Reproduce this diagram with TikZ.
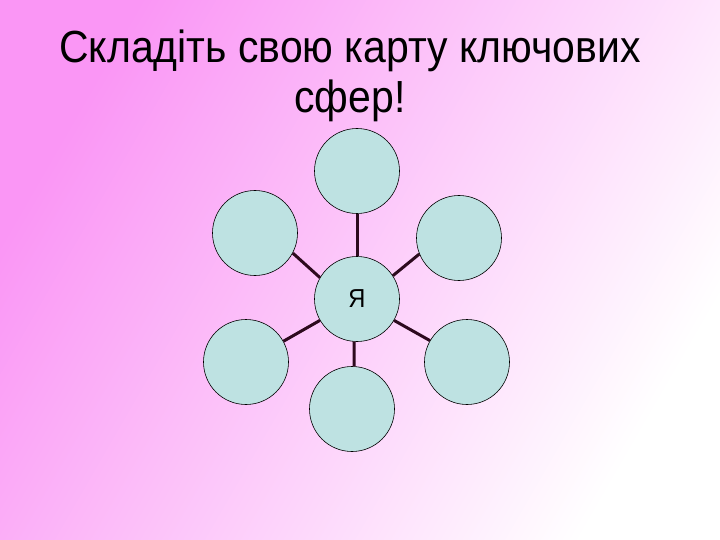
\documentclass[tikz,border=0pt]{standalone}
\usepackage{fontspec}
\setmainfont{Liberation Sans}[FakeStretch=0.91]
\usetikzlibrary{positioning,shapes}

\definecolor{bgpink}{RGB}{250,150,245}
\definecolor{spherefill}{RGB}{190,226,226}
\definecolor{spokecol}{RGB}{45,10,30}

\begin{document}
\begin{tikzpicture} [x=1pt,y=-1pt,line width=0.6pt,
  sphere/.style={circle,draw=black,fill=spherefill,minimum size=85pt,inner sep=0pt},
  spoke/.style={draw=spokecol,line width=3pt}]

  \shade[top color=bgpink,bottom color=white,shading angle=60] (0,0) rectangle (720,540);
  \useasboundingbox (0,0) rectangle (720,540);

  \node (title) [anchor=north, align=center, inner sep=0pt,
    font=\fontsize{45}{50}\selectfont] at (350,30)
    {Складіть свою карту ключових\\сфер!};

  \node[sphere] (ya) at (357,299) {\fontsize{26}{30}\selectfont Я};
  \node[sphere] (top) at (357,171) {};
  \node[sphere] (ul)  at (255,233) {};
  \node[sphere] (ur)  at (459,238) {};
  \node[sphere] (ll)  at (246,362) {};
  \node[sphere] (lr)  at (467,362) {};
  \node[sphere] (bot) at (352,409) {};

  \draw[spoke] (ya.90)   -- (top.-90);
  \draw[spoke] (ya.150)  -- (ul.-28);
  \draw[spoke] (ya.33)   -- (ur.-158);
  \draw[spoke] (ya.-150) -- (ll.29);
  \draw[spoke] (ya.-30)  -- (lr.150);
  \draw[spoke] (ya.-94)  -- (bot.87);

\end{tikzpicture}
\end{document}
